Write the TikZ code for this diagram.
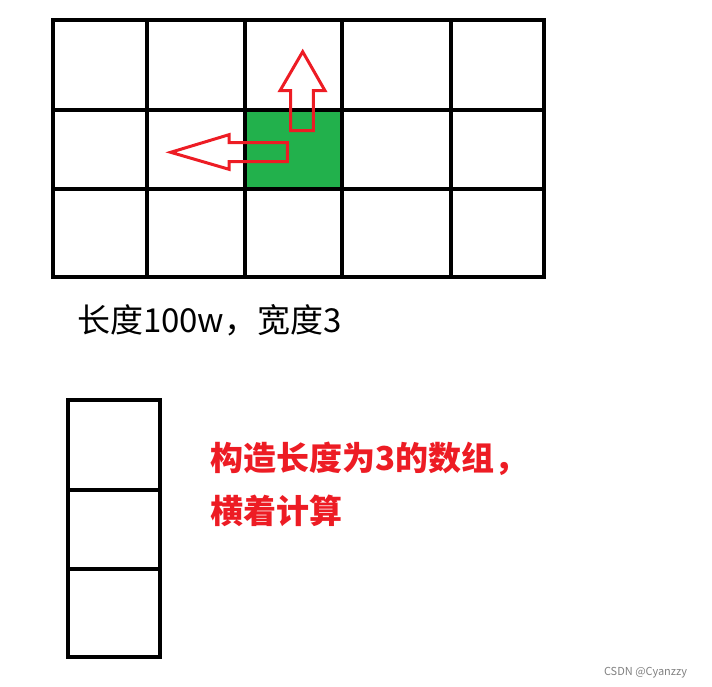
\documentclass[tikz,border=0pt]{standalone}
\usepackage{fontspec}
\newfontfamily\cjk{Noto Sans CJK SC}
\definecolor{paintgreen}{RGB}{34,177,76}
\definecolor{paintred}{RGB}{237,28,36}

\begin{document}
\begin{tikzpicture}[x=1pt, y=-1pt, line width=4pt, line cap=rect,
  outline/.style={draw=paintred, line width=3pt, line join=miter, line cap=butt},
  notetext/.style={anchor=base west, inner sep=0, text=paintred,
    font={\cjk\bfseries\fontsize{33}{33}\selectfont}}]
\useasboundingbox (0,0) rectangle (712,687);

% The cell in green
\fill [paintgreen] (245,110) rectangle (342,189);

% Grid of the 3 x 5 table
\foreach \x in {53,147,245,342,451,544} {
  \draw (\x,20) -- (\x,277);
}
\foreach \y in {20,110,189,277} {
  \draw (53,\y) -- (544,\y);
}

% Hollow arrows, up and left
\draw [outline] (302.7,51.7) -- (325,90.7) -- (313.3,90.7) -- (313.3,130.7)
  -- (290.7,130.7) -- (290.7,90.7) -- (280,90.7) -- cycle;
\draw [outline] (170.7,152.3) -- (229,134.7) -- (229,142.7) -- (287.3,142.7)
  -- (287.3,161.7) -- (229,161.7) -- (229,169.3) -- cycle;

\node [anchor=base west, inner sep=0, font={\cjk\fontsize{33}{33}\selectfont}]
  (size) at (75,332) {长度100w，宽度3};

% Column of 3 cells
\foreach \x in {68,160} {
  \draw (\x,400) -- (\x,657);
}
\foreach \y in {400,490,569,657} {
  \draw (68,\y) -- (160,\y);
}

\node [notetext] (note) at (208,470) {构造长度为3的数组，};
\node [notetext] (noteb) at (208,523) {横着计算};

\node [anchor=base west, inner sep=0, text=gray,
  font={\cjk\fontsize{11}{11}\selectfont}] (mark) at (602,675) {CSDN @Cyanzzy};

\end{tikzpicture}
\end{document}
